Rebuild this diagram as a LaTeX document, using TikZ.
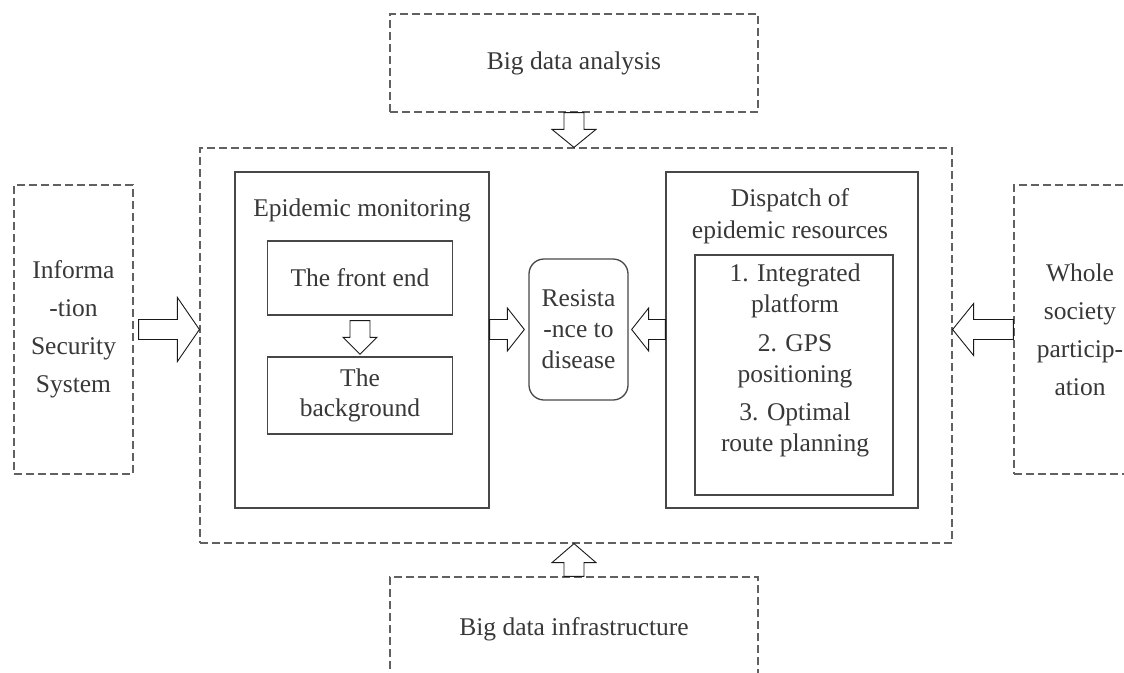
\documentclass[tikz,border=0pt]{standalone}
\usepackage{fontspec}
\setmainfont{Liberation Serif}
\usetikzlibrary{calc,positioning}

% hollow block arrow: #1 half head width, #2 head length, #3 from, #4 to
\newcommand{\blockarrow}[4]{%
  \draw[hollow] let \p1=(#3), \p2=(#4),
      \n1={atan2(\y2-\y1,\x2-\x1)}, \n2={veclen(\x2-\x1,\y2-\y1)} in
    [shift={(\p1)}, rotate={\n1}]
    (0pt,10pt) -- ({\n2-#2pt},10pt) -- ({\n2-#2pt},#1pt) -- ({\n2+0pt},0pt)
    -- ({\n2-#2pt},-#1pt) -- ({\n2-#2pt},-10pt) -- (0pt,-10pt) -- cycle;}

\begin{document}
\begin{tikzpicture}[x=1pt,y=-1pt,
  every node/.style={text=black!78,font=\fontsize{25.5}{31}\selectfont},
  dash node/.style={draw=black!62,dash pattern=on 8pt off 4pt,line width=1.2pt,inner sep=0pt},
  box node/.style={draw=black!72,line width=1.3pt,inner sep=0pt},
  side text/.style={align=center,font=\fontsize{25.5}{38}\selectfont},
  hollow/.style={draw=black!90,line width=0.9pt,fill=white}]

  \useasboundingbox (0,0) rectangle (1124,672);

  % outer dashed frame and surrounding boxes
  \node[dash node,minimum width=752pt,minimum height=395pt] (platform) at (576,345.5) {};
  \node[dash node,minimum width=368pt,minimum height=98pt] (analysis) at (574,63) {Big data analysis};
  \node[dash node,minimum width=368pt,minimum height=104pt] (infra) at (574,629) {Big data infrastructure};
  \node[dash node,side text,minimum width=119pt,minimum height=289pt] (infosec) at (73.5,329.5)
    {Informa\\-tion\\Security\\System};
  \node[dash node,side text,minimum width=132pt,minimum height=289pt] (society) at (1080,329.5)
    {Whole\\society\\particip-\\ation};

  % epidemic monitoring
  \node[box node,minimum width=254pt,minimum height=336pt] (monitor) at (362,340) {};
  \node (monitortitle) at (362,210) {Epidemic monitoring};
  \node[box node,minimum width=185pt,minimum height=74pt] (front) at (360,278) {The front end};
  \node[box node,align=center,font=\fontsize{25.5}{30}\selectfont,
    minimum width=185pt,minimum height=77pt] (back) at (360,395.5) {The\\background};

  % centre
  \node[box node,rounded corners=15pt,align=center,minimum width=99pt,minimum height=141pt]
    (resist) at (578.5,329.5) {Resista\\-nce to\\disease};

  % dispatch of resources
  \node[box node,minimum width=252pt,minimum height=336pt] (dispatch) at (792,340) {};
  \node[align=center,font=\fontsize{25.5}{32}\selectfont] (dispatchtitle) at (790,216)
    {Dispatch of\\epidemic resources};
  \node[box node,minimum width=198pt,minimum height=240pt] (listbox) at (794,375) {};
  \node[align=center] (listtext) at (795,360)
    {1. Integrated\\platform\\[8pt]2. GPS\\positioning\\[7pt]3. Optimal\\route planning};

  % arrows
  \blockarrow{32}{22}{$(infosec.east)+(5,0)$}{platform.west |- infosec.east}
  \blockarrow{26}{21}{society.west}{platform.east |- society.west}
  \blockarrow{22}{18}{analysis.south}{analysis.south |- platform.north}
  \blockarrow{22}{19}{infra.north}{infra.north |- platform.south}
  \blockarrow{21.5}{17}{monitor.east |- resist.west}{$(resist.west)+(-4,0)$}
  \blockarrow{21.5}{17}{dispatch.west |- resist.east}{$(resist.east)+(3,0)$}
  \blockarrow{17}{17}{$(front.south)+(0,5)$}{$(back.north)+(0,-2)$}

\end{tikzpicture}
\end{document}
